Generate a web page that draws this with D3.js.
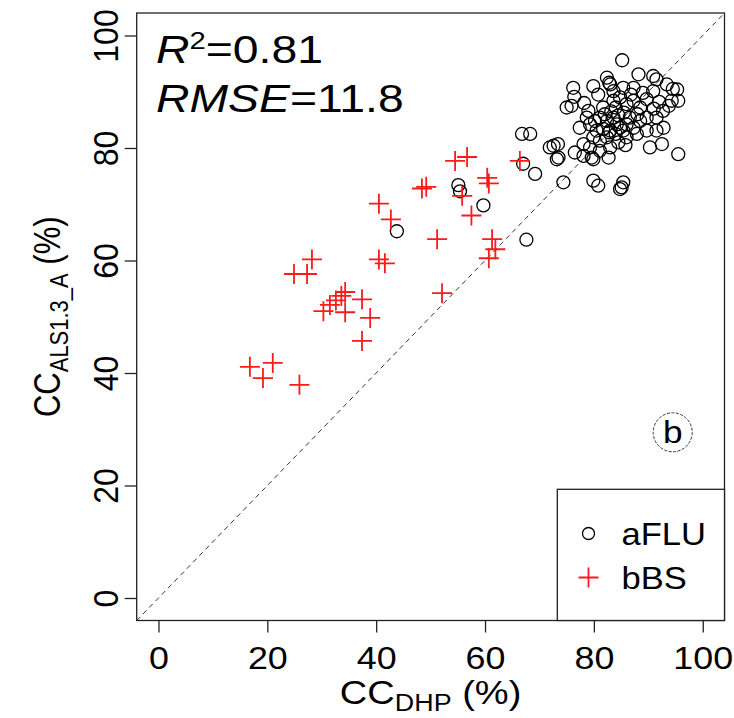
<!DOCTYPE html>
<html>
<head>
<meta charset="utf-8">
<script src="https://cdn.jsdelivr.net/npm/d3@7"></script>
<style>
  body { margin: 0; background: #fff; }
  text { font-family: "Liberation Sans", Arial, sans-serif; fill: #000; }
</style>
</head>
<body>
<div id="chart"></div>
<script>
const WIDTH = 734, HEIGHT = 718;
const M = { top: 13, right: 9.5, bottom: 97.5, left: 136.7 };
const innerW = WIDTH - M.left - M.right;
const innerH = HEIGHT - M.top - M.bottom;

const ticks = [0, 20, 40, 60, 80, 100];

// aFLU (circles), [CC_DHP, CC_ALS1.3_A]
const aFLU = [
  [43.8,65.2],[55.1,73.4],[55.4,72.3],[59.7,69.8],[67.6,63.7],
  [66.8,82.5],[68.3,82.5],[67.0,77.2],[69.2,75.4],
  [71.9,80.1],[72.6,80.4],[73.4,80.7],[73.5,78.3],[73.2,78.0],
  [74.4,73.9],[76.5,79.2],[78.1,78.6],[79.6,78.3],[79.9,78.0],[82.7,78.3],
  [79.9,74.2],[80.8,73.3],[85.4,73.9],[85.1,73.0],[84.8,72.7],
  [85.2,95.6],[76.2,90.7],[76.4,89.1],[75.0,87.2],[75.9,87.5],
  [79.9,91.0],[82.4,92.5],[82.8,91.6],[88.2,93.1],[90.9,92.8],[91.5,92.2],
  [93.4,91.3],[94.5,90.5],[95.3,90.4],[94.3,88.4],[95.5,88.4],[92.7,86.6],
  [92.8,83.6],[91.5,83.1],[89.7,83.1],[87.9,82.5],[90.3,80.1],[92.5,80.7],[95.5,78.9],
  [81.7,87.2],[83.6,88.4],[84.8,89.0],[86.0,87.8],[87.3,88.4],[88.5,87.2],[89.7,88.7],
  [90.9,90.1],[87.3,90.7],[85.4,90.7],[83.6,90.1],[81.1,85.4],[82.4,84.8],[83.6,85.4],
  [84.2,84.2],[84.8,83.6],[83.0,83.1],[81.7,83.4],[80.5,83.1],[79.9,81.9],[81.1,81.3],
  [82.4,81.9],[84.0,82.5],[85.4,83.1],[86.0,84.2],[86.6,85.4],[87.3,83.6],[88.5,84.8],
  [86.0,81.9],[79.3,80.1],[78.1,80.7],[81.1,79.5],[83.0,80.1],[79.0,86.6],[78.7,85.4],
  [77.4,83.6],[79.3,84.2],[84.0,87.2],[83.0,91.3],[89.7,85.4],[91.5,85.4],
  [82.0,86.0],[83.2,86.5],[84.5,85.8],[85.5,86.3],[82.8,82.8],[84.5,81.0],[85.8,80.5],
  [80.2,84.8],[86.8,89.5],[88.0,86.0],[89.0,89.8],[92.0,88.2],[93.8,87.5],[91.0,87.0],
  [80.8,89.5],[78.2,88.0]
];

// bBS (red crosses)
const bBS = [
  [16.8,41.1],[19.2,39.1],[21.0,41.8],[25.9,37.9],
  [24.9,57.6],[27.3,57.6],[28.2,60.2],
  [30.3,51.0],[31.5,52.1],[32.6,52.9],[33.6,53.7],[34.3,54.4],[34.3,50.8],
  [37.4,53.1],[38.9,49.8],[37.4,45.7],
  [40.5,70.1],[42.7,67.3],[40.5,60.2],[41.6,59.5],
  [48.4,72.8],[49.2,73.1],[51.2,63.8],[52.1,54.2],
  [54.5,77.7],[56.7,78.4],[55.8,71.5],[57.5,68.0],
  [60.4,74.7],[60.7,73.7],[61.3,63.8],[61.9,62.0],[60.7,60.4],[66.4,77.7]
];

const svg = d3.select("#chart").append("svg")
  .attr("width", WIDTH).attr("height", HEIGHT);
const g = svg.append("g").attr("transform", `translate(${M.left},${M.top})`);

const x = d3.scaleLinear().domain([-4, 104]).range([0, innerW]);
const y = d3.scaleLinear().domain([-4, 104]).range([innerH, 0]);

g.append("defs").append("clipPath").attr("id", "clip")
  .append("rect").attr("width", innerW).attr("height", innerH);

// 1:1 line
g.append("line")
  .attr("clip-path", "url(#clip)")
  .attr("x1", x(-4)).attr("y1", y(-4)).attr("x2", x(104)).attr("y2", y(104))
  .attr("stroke", "#333").attr("stroke-width", 1).attr("stroke-dasharray", "5,4");

// axes (ticks only, box drawn below)
const xAxis = g.append("g").attr("transform", `translate(0,${innerH})`)
  .call(d3.axisBottom(x).tickValues(ticks).tickSize(12).tickPadding(8));
const yAxis = g.append("g")
  .call(d3.axisLeft(y).tickValues(ticks).tickSize(12).tickPadding(8));
[xAxis, yAxis].forEach(a => {
  a.select(".domain").remove();
  a.selectAll("line").attr("stroke", "#222").attr("stroke-width", 1.3);
  a.selectAll("text").style("font-size", "32px").attr("fill", "#000")
    .style("font-family", "'Liberation Sans', Arial, sans-serif");
});
xAxis.selectAll("text").attr("dy", "0.9em").attr("transform", "scale(1.12,1)");
yAxis.selectAll("text")
  .attr("x", null).attr("dy", null)
  .attr("text-anchor", "middle")
  .attr("transform", "translate(-19,0) scale(1.1,1) rotate(-90)");

// points
g.selectAll(".flu").data(aFLU).join("circle")
  .attr("class", "flu")
  .attr("cx", d => x(d[0])).attr("cy", d => y(d[1]))
  .attr("r", 6.5)
  .attr("fill", "none").attr("stroke", "#000").attr("stroke-width", 1.3);

const cr = 10;
g.selectAll(".bs").data(bBS).join("path")
  .attr("class", "bs")
  .attr("d", d => {
    const cx = x(d[0]), cy = y(d[1]);
    return `M${cx - cr},${cy}H${cx + cr}M${cx},${cy - cr}V${cy + cr}`;
  })
  .attr("fill", "none").attr("stroke", "#ff1a1a").attr("stroke-width", 1.8);

// box
g.append("rect").attr("width", innerW).attr("height", innerH)
  .attr("fill", "none").attr("stroke", "#222").attr("stroke-width", 1.3);

// stats text
const t1 = svg.append("text").attr("transform", "translate(156,63) scale(1.22,1)")
  .style("font-size", "38px");
t1.append("tspan").style("font-style", "italic").text("R");
t1.append("tspan").attr("dy", -14).style("font-size", "24px").text("2");
t1.append("tspan").attr("dy", 14).text("=0.81");
const t2 = svg.append("text").attr("transform", "translate(156,112) scale(1.22,1)")
  .style("font-size", "38px");
t2.append("tspan").style("font-style", "italic").text("RMSE");
t2.append("tspan").text("=11.8");

// panel label
svg.append("circle").attr("cx", 672.7).attr("cy", 432.3).attr("r", 19.5)
  .attr("fill", "none").attr("stroke", "#333").attr("stroke-width", 1)
  .attr("stroke-dasharray", "3,1.5");
svg.append("text").attr("transform", "translate(672.7,443) scale(1.1,1)")
  .attr("text-anchor", "middle")
  .style("font-size", "32px").text("b");

// legend
const lx = 557.3, ly = 489.3;
svg.append("rect").attr("x", lx).attr("y", ly)
  .attr("width", M.left + innerW - lx).attr("height", M.top + innerH - ly)
  .attr("fill", "#fff").attr("stroke", "#222").attr("stroke-width", 1.3);
const leg = [
  { name: "aFLU", type: "circle" },
  { name: "bBS", type: "cross" }
];
const rows = svg.selectAll(".leg").data(leg).join("g")
  .attr("transform", (_, i) => `translate(588.5, ${533.5 + i * 44})`);
rows.filter(d => d.type === "circle").append("circle")
  .attr("r", 6).attr("fill", "none").attr("stroke", "#000").attr("stroke-width", 1.3);
rows.filter(d => d.type === "cross").append("path")
  .attr("d", `M-${cr},0H${cr}M0,-${cr}V${cr}`)
  .attr("stroke", "#ff1a1a").attr("stroke-width", 1.8);
rows.append("text").attr("transform", "translate(33,11) scale(1.08,1)")
  .style("font-size", "32px").text(d => d.name);

// axis labels
const xl = svg.append("text")
  .attr("transform", `translate(${M.left + innerW / 2},704) scale(1.12,1)`)
  .attr("text-anchor", "middle").style("font-size", "34px");
xl.append("tspan").text("CC");
xl.append("tspan").attr("dy", 7).style("font-size", "24px").text("DHP");
xl.append("tspan").attr("dy", -7).text(" (%)");

const yl = svg.append("text")
  .attr("transform", `translate(60, ${M.top + innerH / 2}) scale(1.18,1) rotate(-90)`)
  .attr("text-anchor", "middle").style("font-size", "31px");
yl.append("tspan").text("CC");
yl.append("tspan").attr("dy", 7).style("font-size", "22px").text("ALS1.3_A");
yl.append("tspan").attr("dy", -7).text(" (%)");
</script>
</body>
</html>
